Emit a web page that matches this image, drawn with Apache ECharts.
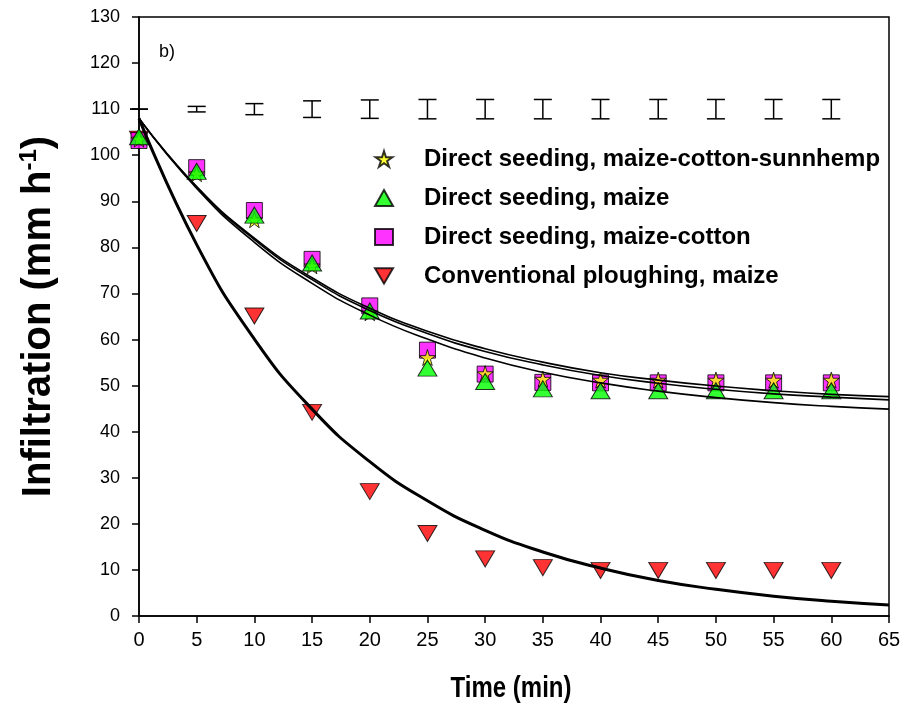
<!DOCTYPE html>
<html>
<head>
<meta charset="utf-8">
<script src="https://cdn.jsdelivr.net/npm/echarts@6/dist/echarts.min.js"></script>
<style>
  html, body { margin: 0; padding: 0; background: #fff; }
  #main { width: 919px; height: 728px; }
</style>
</head>
<body>
<div id="main"></div>
<script>
// measured infiltration (mm h-1) at each sampling time (min)
var times = [0, 5, 10, 15, 20, 25, 30, 35, 40, 45, 50, 55, 60];
var sunnhemp = [103.5, 96, 86, 76, 65.8, 56.1, 52.6, 51.4, 51.2, 51.2, 51.2, 51.2, 51.2];
var maize = [104, 96.5, 87, 76.6, 66.2, 53.8, 50.9, 49.3, 48.9, 48.9, 48.9, 48.9, 48.9];
var maizeCotton = [103.2, 97.3, 88, 77.4, 67.3, 57.7, 52.5, 50.7, 50.6, 50.6, 50.6, 50.6, 50.6];
var ploughing = [103.5, 85.2, 65.1, 44.2, 27, 17.9, 12.4, 10.5, 9.9, 9.9, 9.9, 9.9, 9.9];

// fitted curves, every 5 min
var fitTimes = [0, 5, 10, 15, 20, 25, 30, 35, 40, 45, 50, 55, 60, 65];
var fitTop = [108, 93.2, 82.0, 73.4, 66.8, 61.8, 58.0, 55.1, 52.8, 51.2, 49.9, 48.9, 48.1, 47.6];
var fitMid = [108, 93.1, 81.7, 73.0, 66.3, 61.3, 57.4, 54.5, 52.2, 50.5, 49.2, 48.2, 47.5, 46.9];
var fitLow = [108, 92.8, 81.1, 72.2, 65.3, 60.1, 56.0, 52.9, 50.6, 48.8, 47.4, 46.3, 45.5, 44.9];
var fitPlough = [108, 80.6, 60.1, 44.9, 33.5, 25.0, 18.6, 13.9, 10.4, 7.7, 5.8, 4.3, 3.2, 2.4];

// error bars drawn along the top at 110
var errCentre = 110;
var errHalf = [0, 0.6, 1.2, 1.8, 2.0, 2.1, 2.1, 2.1, 2.1, 2.1, 2.1, 2.1, 2.1];

var names = [
    'Direct seeding, maize-cotton-sunnhemp',
    'Direct seeding, maize',
    'Direct seeding, maize-cotton',
    'Conventional ploughing, maize'
];

function pairs(xs, ys) {
    return xs.map(function (x, i) { return [x, ys[i]]; });
}

var starPath = 'path://M50,0 L61,35 L98,35 L68,57 L79,91 L50,70 L21,91 L32,57 L2,35 L39,35 Z';
var downTri = 'path://M0,0 L20,0 L10,17 Z';
var font = "'Liberation Sans', Arial, sans-serif";

function fitLine(ys, width) {
    return {
        type: 'line',
        data: pairs(fitTimes, ys),
        symbol: 'none',
        smooth: 0.5,
        silent: true,
        z: 5,
        lineStyle: { color: '#000', width: width }
    };
}

var myChart = echarts.init(document.getElementById('main'));
myChart.setOption({
    animation: false,
    backgroundColor: '#fff',
    grid: {
        left: 139, right: 30, top: 17, bottom: 112,
        show: true, borderColor: '#000', borderWidth: 1.5, backgroundColor: 'transparent'
    },
    graphic: [
        {
            type: 'text', left: 159, top: 43,
            style: { text: 'b)', font: '18px ' + font, fill: '#000' }
        },
        {
            // x title, squeezed like the original
            type: 'text', x: 511, y: 689, scaleX: 0.8,
            style: {
                text: 'Time (min)', font: 'bold 30px ' + font, fill: '#000',
                textAlign: 'center', textVerticalAlign: 'middle'
            }
        }
    ],
    legend: {
        data: names,
        orient: 'vertical',
        left: 374,
        top: 147,
        padding: 0,
        itemWidth: 18,
        itemHeight: 16,
        itemGap: 15,
        selectedMode: false,
        textStyle: {
            fontFamily: font, fontWeight: 'bold', fontSize: 24, color: '#000',
            padding: [0, 0, 0, 26]
        }
    },
    xAxis: {
        type: 'value', min: 0, max: 65, interval: 5,
        axisLine: { lineStyle: { color: '#000', width: 1.5 } },
        axisTick: { length: 7, lineStyle: { color: '#000', width: 1.5 } },
        axisLabel: { fontFamily: font, fontSize: 20, color: '#000', margin: 14 },
        splitLine: { show: false }
    },
    yAxis: {
        type: 'value', min: 0, max: 130, interval: 10,
        name: '{a|Infiltration (mm h}{s|-1}{a|)}', nameLocation: 'middle', nameGap: 78,
        nameTextStyle: {
            rich: {
                a: { fontFamily: font, fontWeight: 'bold', fontSize: 40, color: '#000' },
                s: { fontFamily: font, fontWeight: 'bold', fontSize: 24, color: '#000', padding: [0, 0, 20, 0] }
            }
        },
        axisLine: { lineStyle: { color: '#000', width: 1.5 } },
        axisTick: { length: 7, lineStyle: { color: '#000', width: 1.5 } },
        axisLabel: { fontFamily: font, fontSize: 18, color: '#000', margin: 19 },
        splitLine: { show: false }
    },
    series: [
        {
            type: 'custom',
            silent: true,
            data: times.map(function (t, i) { return [t, errCentre - errHalf[i], errCentre + errHalf[i]]; }),
            renderItem: function (params, api) {
                var hi = api.coord([api.value(0), api.value(2)]);
                var lo = api.coord([api.value(0), api.value(1)]);
                var w = 9;
                var st = { stroke: '#000', lineWidth: 1.5 };
                return {
                    type: 'group',
                    children: [
                        { type: 'line', shape: { x1: hi[0], y1: hi[1], x2: lo[0], y2: lo[1] }, style: st },
                        { type: 'line', shape: { x1: hi[0] - w, y1: hi[1], x2: hi[0] + w, y2: hi[1] }, style: st },
                        { type: 'line', shape: { x1: lo[0] - w, y1: lo[1], x2: lo[0] + w, y2: lo[1] }, style: st }
                    ]
                };
            }
        },
        {
            name: names[3], type: 'scatter', data: pairs(times, ploughing),
            symbol: downTri, symbolSize: [19, 16], z: 2,
            itemStyle: { color: '#ff0000', borderColor: '#000', borderWidth: 1 }
        },
        {
            name: names[2], type: 'scatter', data: pairs(times, maizeCotton),
            symbol: 'rect', symbolSize: [16, 16], z: 2,
            itemStyle: { color: '#ff00ff', borderColor: '#000', borderWidth: 1 }
        },
        {
            name: names[0], type: 'scatter', data: pairs(times, sunnhemp),
            symbol: starPath, symbolSize: [16, 16], z: 3,
            itemStyle: { color: '#ffff00', borderColor: '#000', borderWidth: 1 }
        },
        {
            name: names[1], type: 'scatter', data: pairs(times, maize),
            symbol: 'triangle', symbolSize: [19, 16], z: 3,
            itemStyle: { color: '#00ff00', borderColor: '#000', borderWidth: 1 }
        },
        fitLine(fitTop, 1.6),
        fitLine(fitMid, 1.6),
        fitLine(fitLow, 1.6),
        fitLine(fitPlough, 3)
    ]
});
</script>
</body>
</html>
